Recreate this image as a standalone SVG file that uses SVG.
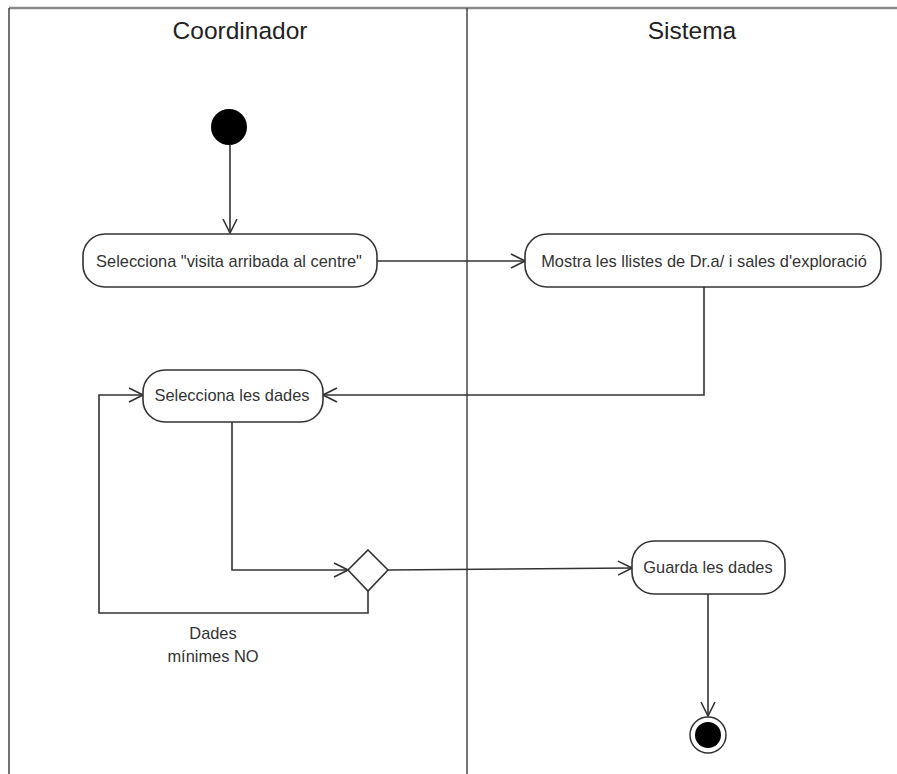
<svg xmlns="http://www.w3.org/2000/svg" width="897" height="774" viewBox="0 0 897 774">
  <style>
    .lane { stroke: #444; stroke-width: 1.5; fill: none; }
    .title { font-family: "Liberation Sans", Arial, sans-serif; font-size: 24.5px; fill: #222; text-anchor: middle; }
    .act rect { fill: #fff; stroke: #333; stroke-width: 1.6; }
    .act text, .lbl { font-family: "Liberation Sans", Arial, sans-serif; font-size: 16.4px; fill: #333; text-anchor: middle; }
    .edge { stroke: #333; stroke-width: 1.6; fill: none; }
  </style>
  <defs>
    <marker id="open" viewBox="0 0 16 16" refX="15" refY="8" markerWidth="16" markerHeight="16" markerUnits="userSpaceOnUse" orient="auto">
      <path d="M1,1 L15,8 L1,15" fill="none" stroke="#333" stroke-width="1.6"/>
    </marker>
  </defs>
  <rect width="897" height="774" fill="#fff"/>

  <!-- swimlanes -->
  <g id="lanes">
    <line x1="9" y1="8" x2="897" y2="8" stroke="#888" stroke-width="2.5"/>
    <line class="lane" x1="9" y1="8" x2="9" y2="774"/>
    <line class="lane" x1="467" y1="8" x2="467" y2="774"/>
    <text class="title" x="240" y="39">Coordinador</text>
    <text class="title" x="692" y="39">Sistema</text>
  </g>

  <!-- connectors -->
  <g id="connectors">
    <line class="edge" x1="230" y1="145" x2="230" y2="233" marker-end="url(#open)"/>
    <line class="edge" x1="377" y1="261" x2="525" y2="261" marker-end="url(#open)"/>
    <polyline class="edge" points="704,287 704,395 323,395" marker-end="url(#open)"/>
    <polyline class="edge" points="232,422 232,570 348,570" marker-end="url(#open)"/>
    <polyline class="edge" points="368,591 368,613 99,613 99,395 143,395" marker-end="url(#open)"/>
    <line class="edge" x1="388" y1="570" x2="632" y2="568" marker-end="url(#open)"/>
    <line class="edge" x1="708" y1="594" x2="708" y2="716" marker-end="url(#open)"/>
    <text class="lbl" x="213" y="639">Dades</text>
    <text class="lbl" x="213" y="662">mínimes NO</text>
  </g>

  <g id="start">
    <circle cx="229" cy="127" r="18" fill="#000"/>
  </g>

  <g id="n1" class="act">
    <rect x="83" y="234" width="294" height="53" rx="22"/>
    <text x="229" y="267">Selecciona "visita arribada al centre"</text>
  </g>

  <g id="n2" class="act">
    <rect x="525" y="234" width="356" height="53" rx="22"/>
    <text x="704" y="267">Mostra les llistes de Dr.a/ i sales d'exploració</text>
  </g>

  <g id="n3" class="act">
    <rect x="143" y="370" width="180" height="52" rx="22"/>
    <text x="232" y="401">Selecciona les dades</text>
  </g>

  <g id="decision">
    <polygon points="368,550 388,570 368,591 348,570" fill="#fff" stroke="#333" stroke-width="1.6"/>
  </g>

  <g id="n4" class="act">
    <rect x="632" y="541" width="153" height="53" rx="22"/>
    <text x="708" y="573">Guarda les dades</text>
  </g>

  <g id="end">
    <circle cx="708" cy="735" r="18" fill="#fff" stroke="#333" stroke-width="1.5"/>
    <circle cx="708" cy="735" r="13" fill="#000"/>
  </g>
</svg>
